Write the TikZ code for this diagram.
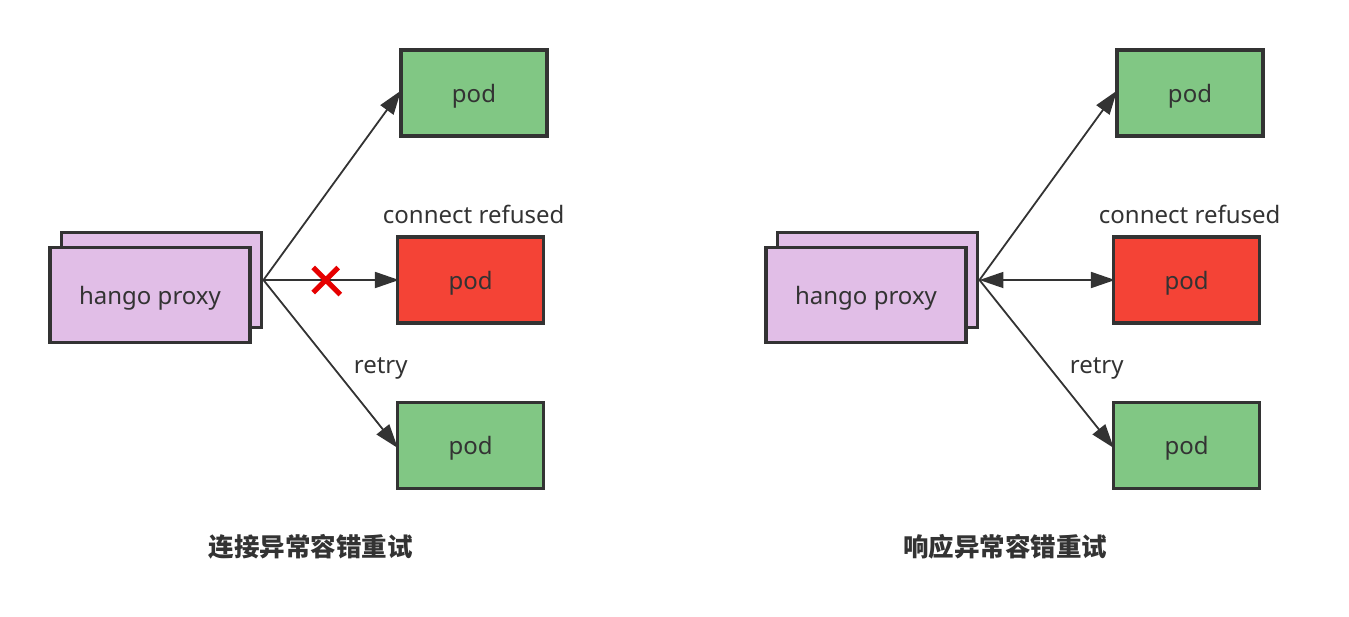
\documentclass[tikz,border=0pt]{standalone}
\usepackage{fontspec}
\setmainfont{Noto Sans}
\newfontfamily\cjkfont{Noto Sans CJK SC}
\usetikzlibrary{arrows.meta,shapes.misc,positioning}
\usepackage{xcolor}
\definecolor{boxgray}{HTML}{333333}
\definecolor{proxyfill}{HTML}{E1BEE7}
\definecolor{podgreen}{HTML}{81C784}
\definecolor{podred}{HTML}{F44336}
\definecolor{crossred}{HTML}{E60000}
\tikzset{
  proxy/.style={
    % The shape:
    rectangle,
    % The size:
    minimum width=200pt, minimum height=95pt,
    % The border:
    line width=3.5pt, draw=boxgray,
    % The filling:
    fill=proxyfill,
    % Font
    font=\fontsize{24}{28}\selectfont, text depth=0pt
  },
  pod/.style={
    % The shape:
    rectangle,
    % The size:
    minimum width=146pt, minimum height=86pt,
    % The border:
    line width=3.5pt, draw=boxgray,
    % The filling:
    fill=podgreen,
    % Font
    font=\fontsize{24}{28}\selectfont, text depth=0pt
  },
  failpod/.style={pod, fill=podred},
  refused/.style={cross out, draw=crossred, line width=5pt, minimum size=20pt, inner sep=0pt}
}
\tikzstyle{every node}=[text=boxgray, text centered]
\tikzstyle{line} = [draw=boxgray, line width=1.8pt, shorten >=-3pt, -{Triangle[length=24pt,width=16pt]}]
\tikzstyle{dline} = [line, {Triangle[length=24pt,width=16pt]}-{Triangle[length=24pt,width=16pt]}]
\tikzstyle{lbl} = [font=\fontsize{24}{28}\selectfont, inner sep=0pt]
\tikzstyle{title} = [font=\cjkfont\bfseries\fontsize{25.5}{30}\selectfont, inner sep=0pt]

\begin{document}
\begin{tikzpicture}[x=1pt, y=1pt, node distance=5mm]
\useasboundingbox (0,0) rectangle (1349,-616);
% connect error retry
\node [proxy] (backL) at (161.7,-280) {};
\node [proxy, below of=backL, xshift=-11.7pt, node distance=15pt] (proxyL) {hango proxy};
\node [failpod, right of=backL, node distance=309pt] (midL) {pod};
\node [pod, above of=midL, xshift=3.3pt, node distance=187pt] (topL) {pod};
\node [pod, below of=midL, node distance=165.7pt] (botL) {pod};
\node [lbl, above of=midL, xshift=3pt, node distance=66pt] (refusedL) {connect refused};
\node [lbl, below of=midL, xshift=-90pt, node distance=88pt] (retryL) {retry};
\node [title, below of=botL, xshift=-160pt, node distance=101pt] (titleL) {连接异常容错重试};
% response error retry
\node [proxy] (backR) at (877.7,-280) {};
\node [proxy, below of=backR, xshift=-11.7pt, node distance=15pt] (proxyR) {hango proxy};
\node [failpod, right of=backR, node distance=309pt] (midR) {pod};
\node [pod, above of=midR, xshift=3.3pt, node distance=187pt] (topR) {pod};
\node [pod, below of=midR, node distance=165.7pt] (botR) {pod};
\node [lbl, above of=midR, xshift=3pt, node distance=66pt] (refusedR) {connect refused};
\node [lbl, below of=midR, xshift=-90pt, node distance=88pt] (retryR) {retry};
\node [title, below of=botR, xshift=-181.5pt, node distance=101pt] (titleR) {响应异常容错重试};
% Draw edges
\path [line] (backL.east) -- (topL.west);
\path [line] (backL.east) -- node [refused, pos=0.47] (crossL) {} (midL.west);
\path [line] (backL.east) -- (botL.west);
\path [line] (backR.east) -- (topR.west);
\path [dline] (backR.east) -- (midR.west);
\path [line] (backR.east) -- (botR.west);
\end{tikzpicture}
\end{document}
